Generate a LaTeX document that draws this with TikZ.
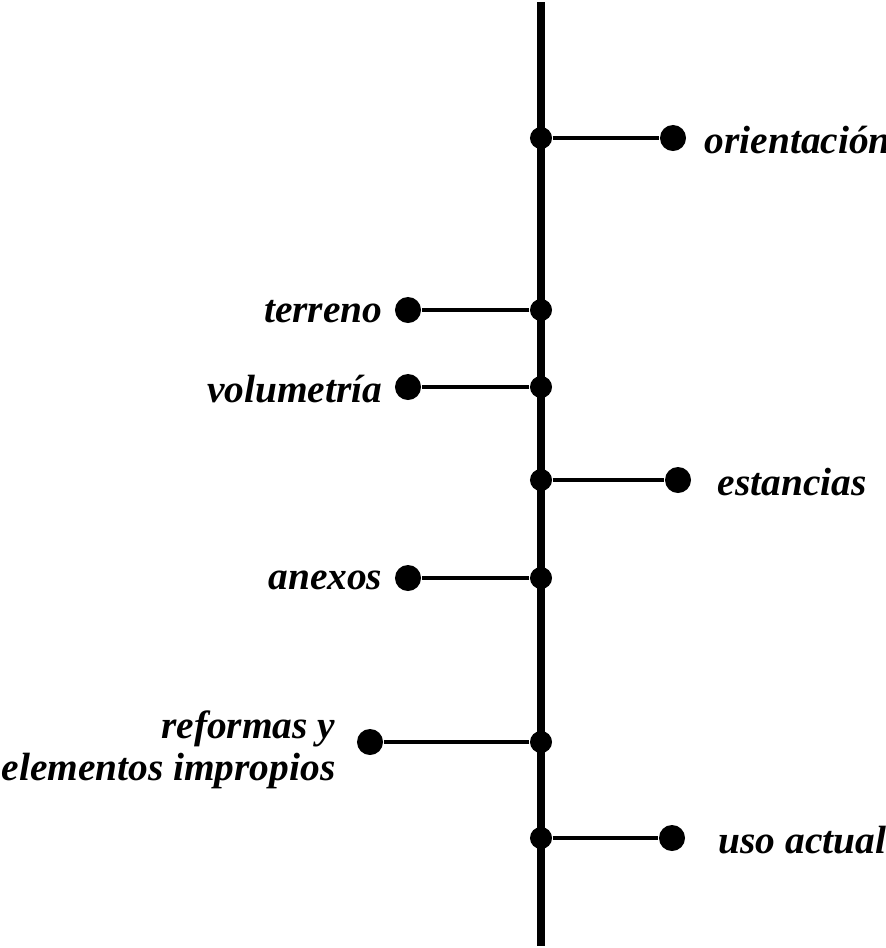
\documentclass[tikz,border=0pt]{standalone}
\usepackage{fontspec}
\setmainfont{Liberation Serif}
\usetikzlibrary{positioning}

\begin{document}
\begin{tikzpicture}[x=0.01cm, y=-0.01cm,
    spine/.style={line width=2pt},
    stem/.style={line width=1.2pt},
    joint/.style={circle, fill, inner sep=0pt, minimum size=0.22cm},
    knob/.style={circle, fill, inner sep=0pt, minimum size=0.26cm},
    tag/.style={font=\fontsize{11.2}{12}\selectfont\bfseries\itshape, inner sep=0pt}]

  \useasboundingbox (0,0) rectangle (886,948);

  % Main axis
  \coordinate (top) at (541,2);
  \coordinate (bot) at (541,946);
  \draw[spine] (top) -- (bot);

  % Branches to the right
  \foreach \i/\y/\x/\lx/\lab in {1/138/673/704/orientación, 4/480/678/717/estancias, 7/838/672/718/uso actual}{
    \node[joint] (s\i) at (541,\y) {};
    \node[knob] (d\i) at (\x,\y) {};
    \node[tag, anchor=west] (t\i) at (\lx,\y+2) {\lab};
    \draw[stem] (s\i) -- (d\i);
  }

  % Branches to the left
  \foreach \i/\y/\x/\lx/\lab in {2/310/408/383/terreno, 3/387/408/383/volumetría, 5/578/408/383/anexos}{
    \node[joint] (s\i) at (541,\y) {};
    \node[knob] (d\i) at (\x,\y) {};
    \node[tag, anchor=east] (t\i) at (\lx,\y+2) {\lab};
    \draw[stem] (s\i) -- (d\i);
  }

  % Two-line label
  \node[joint] (s6) at (541,742) {};
  \node[knob] (d6) at (370,742) {};
  \node[tag, anchor=east, align=right] (t6) at (336,750) {reformas y\\elementos impropios};
  \draw[stem] (s6) -- (d6);
\end{tikzpicture}
\end{document}
